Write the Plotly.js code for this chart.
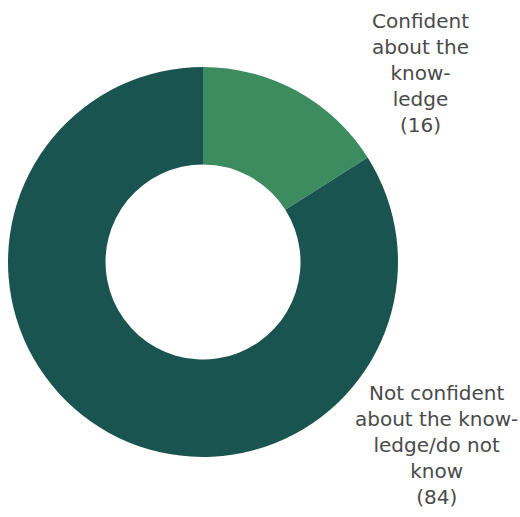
<!DOCTYPE html>
<html><head><meta charset="utf-8">
<script src="https://cdn.plot.ly/plotly-3.0.1.min.js"></script>
<style>html,body{margin:0;padding:0;background:#fff;}#chart{width:520px;height:517px;}</style>
</head><body><div id="chart"></div>
<script>
const categories = ["Confident<br>about the<br>know-<br>ledge", "Not confident<br>about the know-<br>ledge/do not<br>know"];
const values = [16, 84];
const colors = ["#3d8c60", "#1a5450"];
const labelPos = [[420, 73], [436, 445]]; // pixel centers of label blocks

const W = 520, H = 517;
const annotations = categories.map((c, i) => ({
  text: c + "<br>(" + values[i] + ")",
  x: labelPos[i][0] / W, y: 1 - labelPos[i][1] / H,
  xref: "paper", yref: "paper", xanchor: "center", yanchor: "middle",
  showarrow: false, align: "center",
  font: {family: "DejaVu Sans", size: 20, color: "#4a4a4a"}
}));

Plotly.newPlot("chart", [{
  type: "pie", labels: categories, values: values,
  marker: {colors: colors, line: {width: 0}},
  hole: 0.5, sort: false, direction: "clockwise", rotation: 0,
  textinfo: "none", hoverinfo: "label+value",
  domain: {x: [8 / W, 398 / W], y: [(H - 457) / H, (H - 67) / H]}
}], {
  width: W, height: H, margin: {l: 0, r: 0, t: 0, b: 0},
  showlegend: false, paper_bgcolor: "#fff",
  annotations: annotations
}, {displayModeBar: false, staticPlot: true});
</script></body></html>
